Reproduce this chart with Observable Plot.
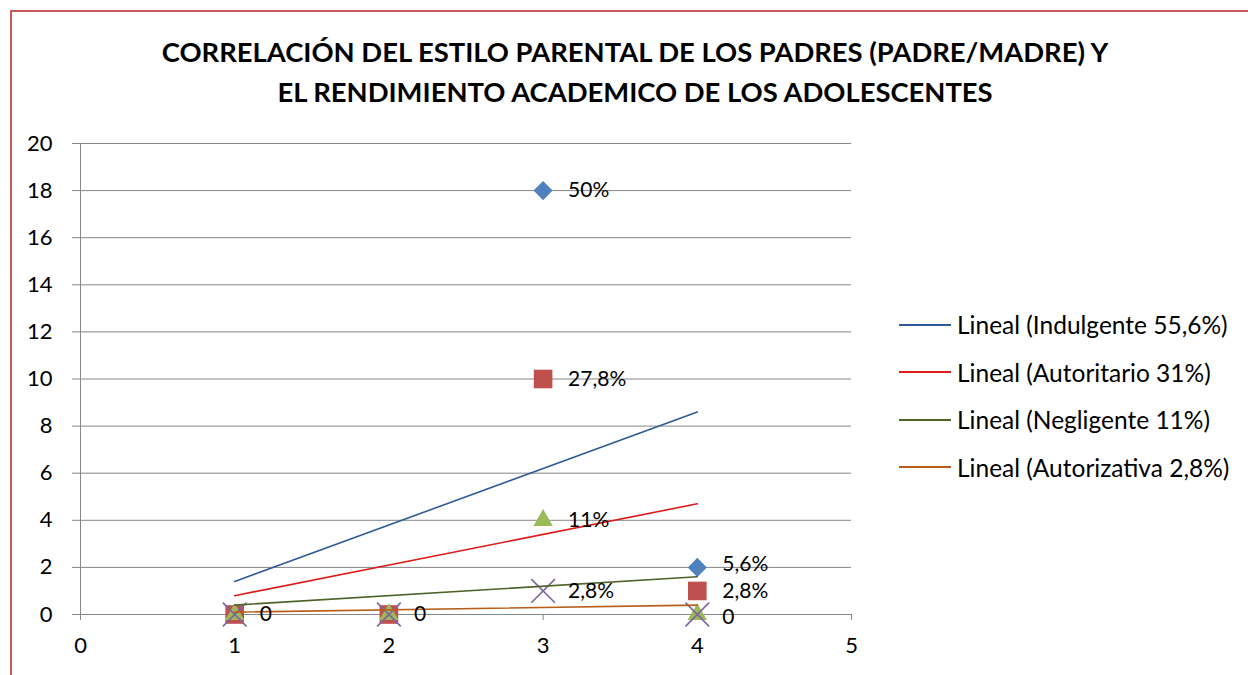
<!DOCTYPE html>
<html>
<head>
<meta charset="utf-8">
<script src="https://cdn.jsdelivr.net/npm/d3@7"></script>
<script src="https://cdn.jsdelivr.net/npm/@observablehq/plot@0.6"></script>
<style>
  html, body { margin: 0; padding: 0; background: #fff; }
  #wrap { position: relative; width: 1248px; height: 675px; overflow: hidden; font-family: Lato, "Open Sans", sans-serif; }
  #frame { position: absolute; left: 10px; top: 10px; width: 1300px; height: 700px; border-left: 2px solid #C9595A; border-top: 2px solid #C9595A; }
  #title { position: absolute; left: 0; top: 32px; width: 1270px; text-align: center; font-weight: 700; font-size: 27.4px; line-height: 40px; color: #000; }
  #legend { position: absolute; left: 899px; top: 301px; }
  .row { display: flex; align-items: center; height: 47.5px; font-size: 24.5px; color: #000; }
  .sw { width: 52px; height: 2px; margin-right: 6px; }
  #chart { position: absolute; left: 0; top: 0; }
  g[aria-label="y-axis tick"], g[aria-label="x-axis tick"] { stroke: #868686; }
</style>
</head>
<body>
<div id="wrap">
  <div id="frame"></div>
  <div id="chart"></div>
  <div id="title"></div>
  <div id="legend"></div>
</div>
<script>
// ---- data ----
const xValues = [1, 2, 3, 4];
const indulgente = [0, 0, 18, 2];
const autoritario = [0, 0, 10, 1];
const negligente = [0, 0, 4, 0];
const autorizativa = [0, 0, 1, 0];
const indulgenteLabels = ["0", "0", "50%", "5,6%"];
const autoritarioLabels = ["0", "0", "27,8%", "2,8%"];
const negligenteLabels = ["0", "0", "11%", "0"];
const autorizativaLabels = ["0", "0", "2,8%", "0"];
const legendNames = ["Lineal (Indulgente 55,6%)", "Lineal (Autoritario 31%)", "Lineal (Negligente 11%)", "Lineal (Autorizativa 2,8%)"];
const titleLines = ["CORRELACIÓN DEL ESTILO PARENTAL DE LOS PADRES (PADRE/MADRE) Y", "EL RENDIMIENTO ACADEMICO DE LOS ADOLESCENTES"];
const xTicks = [0, 1, 2, 3, 4, 5];
const yTicks = [0, 2, 4, 6, 8, 10, 12, 14, 16, 18, 20];

const markerColors = ["#4F81BD", "#C0504D", "#9BBB59", "#8064A2"];
const lineColors = ["#2F5C94", "#E01B1B", "#4F6228", "#B85E1A"];

const seriesVals = [indulgente, autoritario, negligente, autorizativa];
const seriesLabels = [indulgenteLabels, autoritarioLabels, negligenteLabels, autorizativaLabels];
const series = seriesVals.map((vals, s) => xValues.map((x, i) => ({x, y: vals[i], label: seriesLabels[s][i]})));

// labels that coincide exactly (same point, same text) are drawn once
const seen = new Set();
const labelRows = [];
series.forEach(d => d.forEach(p => {
  const k = p.x + "|" + p.y + "|" + p.label;
  if (!seen.has(k)) { seen.add(k); labelRows.push(p); }
}));
// spread labels stacked closely at the same x (top one up, bottom one down)
labelRows.forEach(p => {
  const col = labelRows.filter(q => q.x === p.x && Math.abs(q.y - p.y) <= 1 && q !== p);
  const above = col.some(q => q.y > p.y), below = col.some(q => q.y < p.y);
  p.shift = above && !below ? 3 : (!above && below ? -3 : 0);
});

const symbols = ["diamond2", "square", "triangle", "times"];
const radii = [8.6, 10.5, 7.2, 10.8];

const marks = [
  Plot.gridY(yTicks, {stroke: "#868686", strokeOpacity: 1}),
  Plot.ruleX([0], {stroke: "#868686"}),
  Plot.ruleY([0], {stroke: "#868686"}),
  Plot.axisY({ticks: yTicks, tickSize: 8, tickPadding: 20, fontSize: 22, label: null, tickFormat: d => String(d)}),
  Plot.axisX({ticks: xTicks, tickSize: 6, tickPadding: 17, fontSize: 22, label: null, tickFormat: d => String(d)})
];
series.forEach((d, s) => {
  if (symbols[s] === "times") {
    marks.push(Plot.dot(d, {x: "x", y: "y", symbol: "times", r: radii[s], stroke: markerColors[s], strokeWidth: 1.6}));
  } else {
    marks.push(Plot.dot(d, {x: "x", y: "y", symbol: symbols[s], r: radii[s], fill: markerColors[s], stroke: "none"}));
  }
});
series.forEach((d, s) => {
  marks.push(Plot.linearRegressionY(d, {x: "x", y: "y", ci: 0, stroke: lineColors[s], strokeWidth: 1.6}));
});
const shifts = [-3, 0, 3];
shifts.forEach(sh => {
  marks.push(Plot.text(labelRows.filter(p => p.shift === sh), {
    x: "x", y: "y", text: "label", dx: 25, dy: sh, textAnchor: "start", fontSize: 21, fill: "#000",
    fontWeight: d => d.label === "0" ? 700 : 400
  }));
});

const chart = Plot.plot({
  width: 1248,
  height: 675,
  marginLeft: 80,
  marginRight: 397,
  marginTop: 143,
  marginBottom: 61,
  style: {fontFamily: "Lato, 'Open Sans', sans-serif", fontSize: "22px", background: "transparent", color: "#000"},
  x: {domain: [0, 5]},
  y: {domain: [0, 20]},
  marks
});
document.getElementById("chart").appendChild(chart);

document.getElementById("title").innerHTML = titleLines.map(t => `<div>${t}</div>`).join("");
document.getElementById("legend").innerHTML = legendNames.map((n, i) =>
  `<div class="row"><div class="sw" style="background:${lineColors[i]}"></div><span>${n}</span></div>`).join("");
</script>
</body>
</html>
